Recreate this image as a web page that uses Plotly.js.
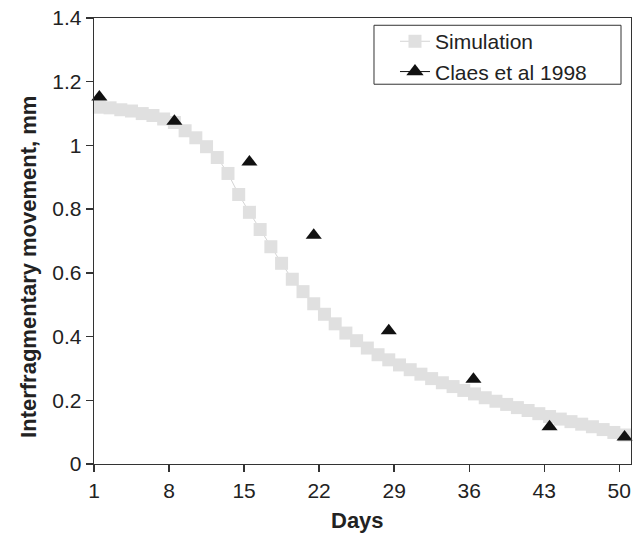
<!DOCTYPE html>
<html>
<head>
<meta charset="utf-8">
<script src="https://cdn.plot.ly/plotly-3.0.1.min.js"></script>
<style>
  html, body { margin: 0; padding: 0; background: #fff; }
  #chart { width: 640px; height: 535px; }
</style>
</head>
<body>
<div id="chart"></div>
<script>
// Simulation: day positions and interfragmentary movement (mm)
const simDays = [1.5, 2.5, 3.5, 4.5, 5.5, 6.5, 7.5, 8.5, 9.5, 10.5,
                 11.5, 12.5, 13.5, 14.5, 15.5, 16.5, 17.5, 18.5, 19.5, 20.5,
                 21.5, 22.5, 23.5, 24.5, 25.5, 26.5, 27.5, 28.5, 29.5, 30.5,
                 31.5, 32.5, 33.5, 34.5, 35.5, 36.5, 37.5, 38.5, 39.5, 40.5,
                 41.5, 42.5, 43.5, 44.5, 45.5, 46.5, 47.5, 48.5, 49.5, 50.5];
const simValues = [1.120, 1.118, 1.112, 1.108, 1.100, 1.094, 1.083, 1.072, 1.046, 1.024,
                   0.996, 0.962, 0.912, 0.846, 0.790, 0.736, 0.682, 0.630, 0.580, 0.541,
                   0.503, 0.470, 0.440, 0.411, 0.387, 0.364, 0.343, 0.327, 0.311, 0.296,
                   0.282, 0.268, 0.255, 0.243, 0.231, 0.220, 0.208, 0.197, 0.187, 0.177,
                   0.168, 0.158, 0.149, 0.141, 0.133, 0.125, 0.117, 0.108, 0.099, 0.091];

// Claes et al 1998 measurements
const claesDays = [1.5, 8.5, 15.5, 21.5, 28.5, 36.4, 43.5, 50.5];
const claesValues = [1.152, 1.076, 0.948, 0.718, 0.418, 0.266, 0.117, 0.085];

// Axis ticks
const xTickVals = [1, 8, 15, 22, 29, 36, 43, 50];
const yTickVals = [0, 0.2, 0.4, 0.6, 0.8, 1, 1.2, 1.4];

const fontFam = '"Liberation Sans", Arial, Helvetica, sans-serif';

const traces = [
  {
    x: simDays, y: simValues,
    type: 'scatter', mode: 'lines+markers',
    name: 'Simulation',
    line: { color: '#d4d4d4', width: 1 },
    marker: { symbol: 'square', size: 13, color: '#e0e0e0', line: { width: 0 } },
    cliponaxis: false
  },
  {
    x: claesDays, y: claesValues,
    type: 'scatter', mode: 'markers',
    name: 'Claes et al 1998',
    showlegend: false,
    marker: { symbol: 'triangle-up', size: 14, color: '#111111', line: { width: 0 } },
    cliponaxis: false
  },
  {
    // legend entry only (line + triangle)
    x: [null], y: [null],
    type: 'scatter', mode: 'lines+markers',
    name: 'Claes et al 1998',
    line: { color: '#111111', width: 1 },
    marker: { symbol: 'triangle-up', size: 15, color: '#111111' },
    hoverinfo: 'skip'
  }
];

const axisCommon = {
  showgrid: false,
  zeroline: false,
  showline: true,
  linecolor: '#333333',
  linewidth: 1.3,
  mirror: true,
  ticks: 'outside',
  ticklen: 7,
  tickwidth: 1.3,
  tickcolor: '#333333',
  tickfont: { family: fontFam, size: 21, color: '#222222' }
};

const layout = {
  width: 640, height: 535,
  margin: { l: 94, r: 9, t: 18, b: 71 },
  paper_bgcolor: '#ffffff',
  plot_bgcolor: '#ffffff',
  showlegend: true,
  xaxis: Object.assign({}, axisCommon, {
    range: [1, 51.1],
    tickmode: 'array',
    tickvals: xTickVals,
    ticktext: xTickVals.map(String)
  }),
  yaxis: Object.assign({}, axisCommon, {
    range: [0, 1.4],
    tickmode: 'array',
    tickvals: yTickVals,
    ticktext: yTickVals.map(String)
  }),
  annotations: [
    {
      text: '<b>Days</b>', xref: 'paper', yref: 'paper',
      x: 0.4908, y: -0.127, xanchor: 'center', yanchor: 'middle',
      showarrow: false,
      font: { family: fontFam, size: 22, color: '#222222' }
    },
    {
      text: '<b>Interfragmentary movement, mm</b>', xref: 'paper', yref: 'paper',
      x: -0.121, y: 0.442, xanchor: 'center', yanchor: 'middle',
      textangle: -90, showarrow: false,
      font: { family: fontFam, size: 22, color: '#222222' }
    }
  ],
  legend: {
    x: 0.5605, y: 0.993, xanchor: 'left', yanchor: 'top',
    bgcolor: 'rgba(0,0,0,0)',
    borderwidth: 0,
    font: { family: fontFam, size: 21, color: '#222222' },
    tracegroupgap: 0
  },
  shapes: [
    {
      type: 'rect', xref: 'paper', yref: 'paper',
      x0: 0.5214, x1: 0.9814, y0: 0.8515, y1: 0.9837,
      line: { color: '#333333', width: 1 },
      fillcolor: 'rgba(255,255,255,1)',
      layer: 'below'
    }
  ]
};

Plotly.newPlot('chart', traces, layout, { displayModeBar: false, staticPlot: true });
</script>
</body>
</html>
